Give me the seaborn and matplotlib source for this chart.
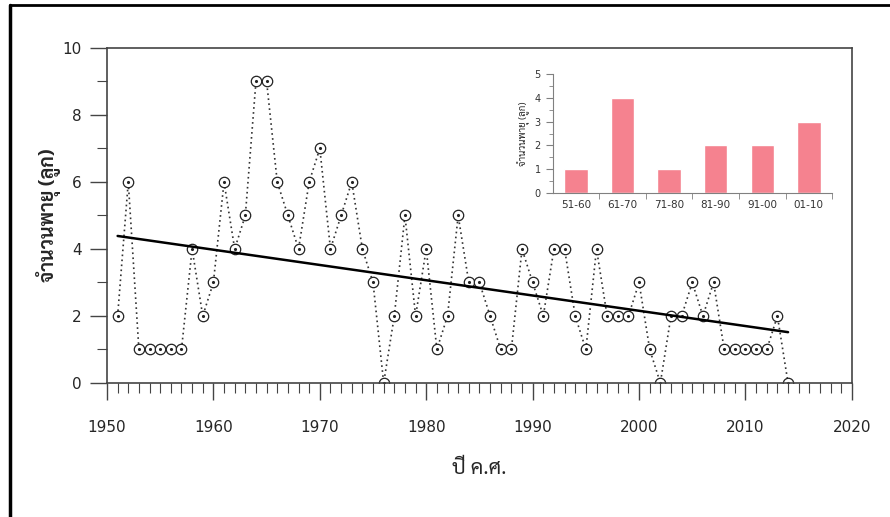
# กราฟจำนวนพายุรายปี พร้อมเส้นแนวโน้ม และกราฟแท่งรายทศวรรษ
import numpy as np
import pandas as pd
import matplotlib
matplotlib.use("Agg")
import matplotlib.pyplot as plt
from matplotlib.lines import Line2D
from matplotlib.ticker import MultipleLocator
import seaborn as sns

years = list(range(1951, 2015))
storms = [2, 6, 1, 1, 1, 1, 1, 4, 2, 3,
          6, 4, 5, 9, 9, 6, 5, 4, 6, 7,
          4, 5, 6, 4, 3, 0, 2, 5, 2, 4,
          1, 2, 5, 3, 3, 2, 1, 1, 4, 3,
          2, 4, 4, 2, 1, 4, 2, 2, 2, 3,
          1, 0, 2, 2, 3, 2, 3, 1, 1, 1,
          1, 1, 2, 0]

decades = ["51-60", "61-70", "71-80", "81-90", "91-00", "01-10"]
decade_counts = [1, 4, 1, 2, 2, 3]

df = pd.DataFrame({"year": years, "storms": storms})
dec = pd.DataFrame({"decade": decades, "count": decade_counts})

sns.set_style("ticks")
thai = ["Sarabun", "Noto Sans Thai Looped", "Noto Sans Thai", "Athiti", "DejaVu Sans"]
plt.rcParams["font.family"] = ["DejaVu Sans"]

fig = plt.figure(figsize=(8.9, 5.17), dpi=100)
ax = fig.add_axes([0.1202, 0.2592, 0.837, 0.648])

# เส้นประ + วงกลมมีจุดกลาง
sns.lineplot(data=df, x="year", y="storms", ax=ax, color="#333333", linestyle=(0, (1, 2)),
             linewidth=1.2, marker="o", markersize=7.5, markerfacecolor="white",
             markeredgecolor="#222222", markeredgewidth=0.9)
ax.plot(df["year"], df["storms"], linestyle="none", marker=".", markersize=2.5, color="#222222")

# เส้นแนวโน้ม
sns.regplot(data=df, x="year", y="storms", ax=ax, scatter=False, ci=None,
            line_kws={"color": "black", "linewidth": 1.8})

ax.set_xlim(1950, 2020)
ax.set_ylim(0, 10)
ax.xaxis.set_major_locator(MultipleLocator(10))
ax.xaxis.set_minor_locator(MultipleLocator(1))
ax.yaxis.set_major_locator(MultipleLocator(2))
ax.yaxis.set_minor_locator(MultipleLocator(1))
ax.tick_params(which="major", length=12, width=1, labelsize=11, color="#444444")
ax.tick_params(axis="x", which="major", pad=15)
ax.tick_params(axis="y", which="major", pad=6)
ax.tick_params(which="minor", length=7, width=0.8, color="#444444")
for s in ax.spines.values():
    s.set_linewidth(1.2)
    s.set_color("#444444")
ax.set_xlabel("ปี ค.ศ.", fontsize=15, family=thai, labelpad=16)
ax.set_ylabel("จำนวนพายุ (ลูก)", fontsize=14, family=thai, fontweight="bold", labelpad=1)

# กราฟแท่งย่อย
ins = fig.add_axes([0.621, 0.6267, 0.314, 0.23])
sns.barplot(data=dec, x="decade", y="count", ax=ins, color="#F5828F",
            width=0.5, saturation=1)
ins.set_xlim(-0.5, 5.5)
ins.set_ylim(0, 5)
ins.yaxis.set_major_locator(MultipleLocator(1))
ins.yaxis.set_minor_locator(MultipleLocator(0.5))
ins.set_xticks(np.arange(len(decades)))
ins.set_xticks(np.arange(len(decades)) + 0.5, minor=True)
ins.tick_params(axis="x", which="major", length=0, labelsize=7.5, pad=5, colors="#333333")
ins.tick_params(axis="x", which="minor", length=4, color="gray")
ins.tick_params(axis="y", which="major", length=5, labelsize=7, color="gray", labelcolor="#333333")
ins.tick_params(axis="y", which="minor", length=3, color="gray")
ins.set_facecolor("none")
sns.despine(ax=ins)
for s in ins.spines.values():
    s.set_color("gray")
    s.set_linewidth(0.8)
ins.set_xlabel("")
ins.set_ylabel("จำนวนพายุ (ลูก)", fontsize=7, family=thai, labelpad=3)

# กรอบรูป
fig.add_artist(Line2D([0.0112, 0.0112], [0, 0.99], transform=fig.transFigure, color="black", linewidth=2.5))
fig.add_artist(Line2D([0.0112, 1], [0.99, 0.99], transform=fig.transFigure, color="black", linewidth=2))

fig.savefig("out.png", dpi=100)
